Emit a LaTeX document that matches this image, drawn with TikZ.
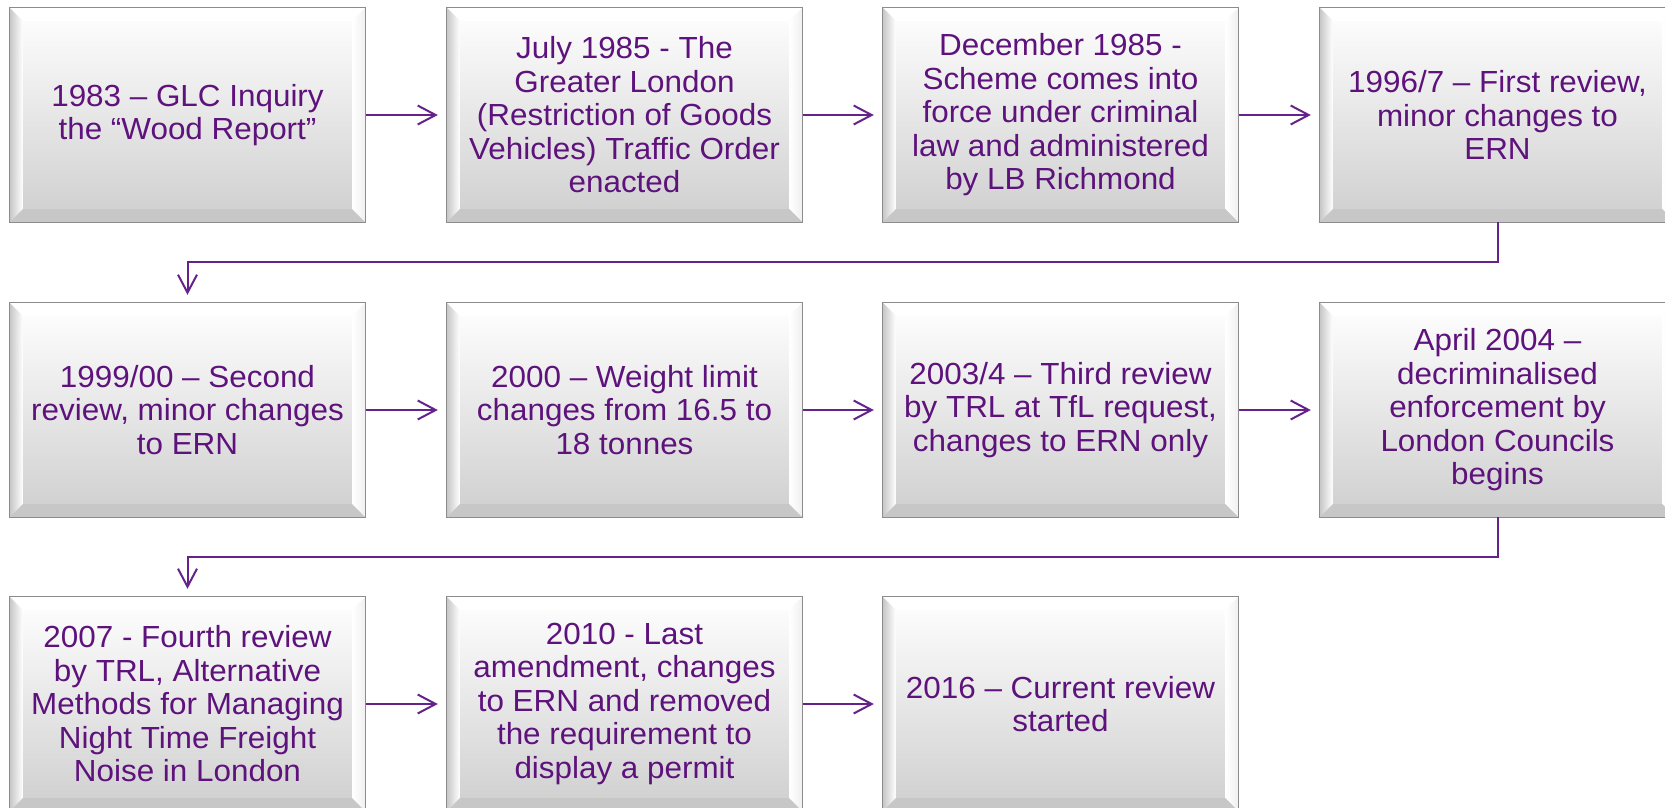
\documentclass[tikz,border=0pt]{standalone}
\usepackage{fontspec}
\setmainfont{Liberation Sans}[FakeStretch=1.03]
\usetikzlibrary{arrows.meta,calc,backgrounds}
\definecolor{txtpurple}{RGB}{94,18,124}
\definecolor{lnpurple}{RGB}{100,34,138}
\definecolor{boxedge}{RGB}{140,140,140}
\begin{document}
\begin{tikzpicture}[x=1pt,y=-1pt,
  stagebox/.style={minimum width=355pt,minimum height=214pt,inner sep=0pt,align=center,
    text=txtpurple,font=\fontsize{30.5}{33.5}\selectfont},
  arr/.style={draw=lnpurple,line width=2pt,-{Straight Barb[length=18pt,width=19pt,line width=2pt]}},
  harr/.style={arr,shorten <=1pt,shorten >=9pt},
  varr/.style={arr,shorten >=8pt}]
\useasboundingbox (0,0) rectangle (1665,807);

\node[stagebox] (b11) at (187.5,115) {1983 – GLC Inquiry\\the “Wood Report”};
\node[stagebox] (b12) at (624.5,115) {July 1985 - The\\Greater London\\(Restriction of Goods\\Vehicles) Traffic Order\\enacted};
\node[stagebox] (b13) at (1060.5,115) {December 1985 -\\Scheme comes into\\force under criminal\\law and administered\\by LB Richmond};
\node[stagebox] (b14) at (1497.5,115) {1996/7 – First review,\\minor changes to\\ERN};

\node[stagebox] (b21) at (187.5,410) {1999/00 – Second\\review, minor changes\\to ERN};
\node[stagebox] (b22) at (624.5,410) {2000 – Weight limit\\changes from 16.5 to\\18 tonnes};
\node[stagebox] (b23) at (1060.5,410) {2003/4 – Third review\\by TRL at TfL request,\\changes to ERN only};
\node[stagebox] (b24) at (1497.5,410) {April 2004 –\\decriminalised\\enforcement by\\London Councils\\begins};

\node[stagebox] (b31) at (187.5,704) {2007 - Fourth review\\by TRL, Alternative\\Methods for Managing\\Night Time Freight\\Noise in London};
\node[stagebox] (b32) at (624.5,704) {2010 - Last\\amendment, changes\\to ERN and removed\\the requirement to\\display a permit};
\node[stagebox] (b33) at (1060.5,704) {2016 – Current review\\started};

\begin{scope}[on background layer]
\foreach \n in {b11,b12,b13,b14,b21,b22,b23,b24,b31,b32,b33}{
  % face
  \shade[top color=white,bottom color=black!19] (\n.north west) rectangle (\n.south east);
  % top bevel
  \fill[white] (\n.north west) -- (\n.north east) -- ($(\n.north east)+(-13,13)$) -- ($(\n.north west)+(13,13)$) -- cycle;
  % left bevel
  \shade[left color=black!22,right color=white] (\n.north west) -- ($(\n.north west)+(13,13)$) -- ($(\n.south west)+(13,-13)$) -- (\n.south west) -- cycle;
  % right bevel
  \shade[left color=white,right color=black!6] (\n.north east) -- (\n.south east) -- ($(\n.south east)+(-13,-13)$) -- ($(\n.north east)+(-13,13)$) -- cycle;
  % bottom bevel
  \fill[black!22] (\n.south west) -- ($(\n.south west)+(13,-13)$) -- ($(\n.south east)+(-13,-13)$) -- (\n.south east) -- cycle;
  \draw[boxedge,line width=1.3pt] (\n.north west) rectangle (\n.south east);
}
\end{scope}

\draw[harr] (b11.east) -- (b12.west);
\draw[harr] (b12.east) -- (b13.west);
\draw[harr] (b13.east) -- (b14.west);
\draw[harr] (b21.east) -- (b22.west);
\draw[harr] (b22.east) -- (b23.west);
\draw[harr] (b23.east) -- (b24.west);
\draw[harr] (b31.east) -- (b32.west);
\draw[harr] (b32.east) -- (b33.west);

\draw[varr] (b14.south) -- ++(0,40) -| (b21.north);
\draw[varr] (b24.south) -- ++(0,40) -| (b31.north);
\end{tikzpicture}
\end{document}
